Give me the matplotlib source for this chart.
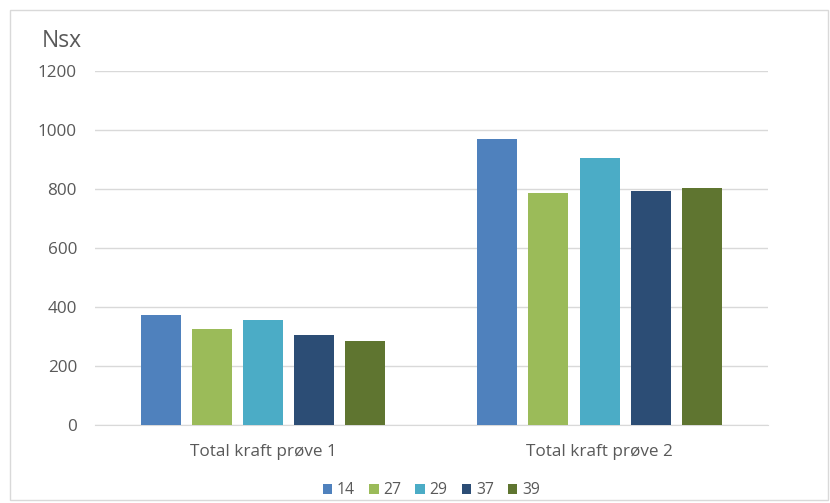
import matplotlib.pyplot as plt
import numpy as np

plt.rcParams['font.family'] = ['Open Sans', 'DejaVu Sans']

categories = ['Total kraft prøve 1', 'Total kraft prøve 2']
series_names = ['14', '27', '29', '37', '39']
values = {
    '14': [374, 968],
    '27': [326, 785],
    '29': [355, 906],
    '37': [304, 794],
    '39': [285, 803],
}
colors = ['#4F81BD', '#9BBB59', '#4BACC6', '#2C4D75', '#5F7530']

fig = plt.figure(figsize=(8.3, 5.03), dpi=100)
fig.patches.append(plt.Rectangle((0.012, 0.006), 0.985, 0.975, transform=fig.transFigure,
                                 fill=False, edgecolor='#D9D9D9', linewidth=1))
ax = fig.add_axes([0.1145, 0.155, 0.8105, 0.704])

x = np.arange(len(categories))
step = 0.152
width = 0.119
for i, name in enumerate(series_names):
    offset = (i - 2) * step
    ax.bar(x + offset, values[name], width, color=colors[i], label=name, zorder=3)

ax.set_xlim(-0.5, 1.5)
ax.set_ylim(0, 1200)
ax.set_yticks(np.arange(0, 1201, 200))
ax.set_xticks(x)
ax.set_xticklabels(categories)
ax.yaxis.grid(True, color='#D9D9D9', linewidth=1, zorder=0)
for side in ['top', 'right', 'left']:
    ax.spines[side].set_visible(False)
ax.spines['bottom'].set_color('#D9D9D9')
ax.tick_params(axis='both', length=0, colors='#595959', labelsize=12.3)
ax.tick_params(axis='y', pad=13)
ax.tick_params(axis='x', pad=14)

fig.text(0.05, 0.906, 'Nsx', fontsize=16.5, color='#595959')

ax.legend(loc='center', bbox_to_anchor=(0.5, -0.184), ncol=5, frameon=False,
          fontsize=11.3, labelcolor='#595959', handlelength=0.6, handleheight=0.6,
          handletextpad=0.3, columnspacing=0.9)

fig.savefig('out.png', dpi=100)
